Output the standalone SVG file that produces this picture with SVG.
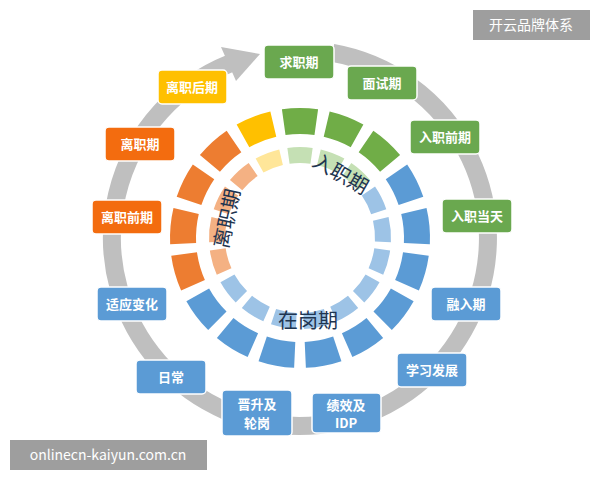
<svg xmlns="http://www.w3.org/2000/svg" xmlns:xlink="http://www.w3.org/1999/xlink" width="600" height="480" viewBox="0 0 600 480">
<style>
.bx{stroke:#fff;stroke-width:1.5}
.g{fill:#6aa84f}.b{fill:#5b9bd5}.o{fill:#f36c0f}.y{fill:#ffc000}
.t{font-family:"Noto Sans CJK SC","Liberation Sans",sans-serif;font-size:13px;font-weight:bold;fill:#fff;text-anchor:middle}
.c{font-family:"Noto Sans CJK SC","Liberation Sans",sans-serif;font-size:20px;fill:#1f3550;text-anchor:middle}
.w{font-family:"Noto Sans CJK SC","Liberation Sans",sans-serif;font-size:14px;fill:#fff;text-anchor:middle}
</style>
<defs>
<path id="so" d="M281.91,109.27 A130,130 0 0 1 318.09,109.27 L314.47,135.01 A104,104 0 0 0 285.53,135.01 Z"/>
<path id="si" d="M287.34,147.89 A91,91 0 0 1 312.66,147.89 L310.44,163.73 A75,75 0 0 0 289.56,163.73 Z"/>
</defs>
<rect width="600" height="480" fill="#fff"/>
<g id="connectors">
<path d="M332.6,52.9 A188,188 0 1 1 229.6,63.7" fill="none" stroke="#bfbfbf" stroke-width="18"/>
<polygon points="221,47 236,81 260,54" fill="#bfbfbf"/>
</g>
<g id="outer-ring">
<use xlink:href="#so" fill="#70ad47"/>
<use xlink:href="#so" fill="#70ad47" transform="rotate(21.18 300 238)"/>
<use xlink:href="#so" fill="#70ad47" transform="rotate(42.35 300 238)"/>
<use xlink:href="#so" fill="#5b9bd5" transform="rotate(63.53 300 238)"/>
<use xlink:href="#so" fill="#5b9bd5" transform="rotate(84.71 300 238)"/>
<use xlink:href="#so" fill="#5b9bd5" transform="rotate(105.88 300 238)"/>
<use xlink:href="#so" fill="#5b9bd5" transform="rotate(127.06 300 238)"/>
<use xlink:href="#so" fill="#5b9bd5" transform="rotate(148.24 300 238)"/>
<use xlink:href="#so" fill="#5b9bd5" transform="rotate(169.41 300 238)"/>
<use xlink:href="#so" fill="#5b9bd5" transform="rotate(190.59 300 238)"/>
<use xlink:href="#so" fill="#5b9bd5" transform="rotate(211.76 300 238)"/>
<use xlink:href="#so" fill="#5b9bd5" transform="rotate(232.94 300 238)"/>
<use xlink:href="#so" fill="#ed7d31" transform="rotate(254.12 300 238)"/>
<use xlink:href="#so" fill="#ed7d31" transform="rotate(275.29 300 238)"/>
<use xlink:href="#so" fill="#ed7d31" transform="rotate(296.47 300 238)"/>
<use xlink:href="#so" fill="#ed7d31" transform="rotate(317.65 300 238)"/>
<use xlink:href="#so" fill="#ffc000" transform="rotate(338.82 300 238)"/>
</g>
<g id="inner-ring">
<use xlink:href="#si" fill="#c5e0b4"/>
<use xlink:href="#si" fill="#c5e0b4" transform="rotate(21.18 300 238)"/>
<use xlink:href="#si" fill="#c5e0b4" transform="rotate(42.35 300 238)"/>
<use xlink:href="#si" fill="#9dc3e6" transform="rotate(63.53 300 238)"/>
<use xlink:href="#si" fill="#9dc3e6" transform="rotate(84.71 300 238)"/>
<use xlink:href="#si" fill="#9dc3e6" transform="rotate(105.88 300 238)"/>
<use xlink:href="#si" fill="#9dc3e6" transform="rotate(127.06 300 238)"/>
<use xlink:href="#si" fill="#9dc3e6" transform="rotate(148.24 300 238)"/>
<use xlink:href="#si" fill="#9dc3e6" transform="rotate(169.41 300 238)"/>
<use xlink:href="#si" fill="#9dc3e6" transform="rotate(190.59 300 238)"/>
<use xlink:href="#si" fill="#9dc3e6" transform="rotate(211.76 300 238)"/>
<use xlink:href="#si" fill="#9dc3e6" transform="rotate(232.94 300 238)"/>
<use xlink:href="#si" fill="#f4b183" transform="rotate(254.12 300 238)"/>
<use xlink:href="#si" fill="#f4b183" transform="rotate(275.29 300 238)"/>
<use xlink:href="#si" fill="#f4b183" transform="rotate(296.47 300 238)"/>
<use xlink:href="#si" fill="#f4b183" transform="rotate(317.65 300 238)"/>
<use xlink:href="#si" fill="#ffe699" transform="rotate(338.82 300 238)"/>
</g>
<g id="phase-labels">
<text class="c" transform="translate(337,180) rotate(30)">入职期</text>
<text class="c" x="308" y="328">在岗期</text>
<text class="c" transform="translate(234,220) rotate(-78)">离职期</text>
</g>
<g id="n1"><rect class="bx g" x="264" y="45" width="70" height="34" rx="4"/><text class="t" x="299" y="67">求职期</text></g>
<g id="n2"><rect class="bx g" x="347" y="66" width="70" height="34" rx="4"/><text class="t" x="382" y="88">面试期</text></g>
<g id="n3"><rect class="bx g" x="410" y="120" width="70" height="34" rx="4"/><text class="t" x="445" y="142">入职前期</text></g>
<g id="n4"><rect class="bx g" x="442" y="199" width="70" height="34" rx="4"/><text class="t" x="477" y="221">入职当天</text></g>
<g id="n5"><rect class="bx b" x="431" y="287" width="70" height="34" rx="4"/><text class="t" x="466" y="309">融入期</text></g>
<g id="n6"><rect class="bx b" x="397" y="353" width="70" height="34" rx="4"/><text class="t" x="432" y="375">学习发展</text></g>
<g id="n7"><rect class="bx b" x="312" y="393" width="69" height="40" rx="4"/><text class="t" x="346" y="410">绩效及</text><text class="t" x="346" y="428">IDP</text></g>
<g id="n8"><rect class="bx b" x="222" y="390" width="70" height="46" rx="4"/><text class="t" x="257" y="409">晋升及</text><text class="t" x="257" y="428">轮岗</text></g>
<g id="n9"><rect class="bx b" x="136" y="360" width="70" height="34" rx="4"/><text class="t" x="171" y="382">日常</text></g>
<g id="n10"><rect class="bx b" x="97" y="287" width="70" height="34" rx="4"/><text class="t" x="132" y="309">适应变化</text></g>
<g id="n11"><rect class="bx o" x="92" y="200" width="70" height="34" rx="4"/><text class="t" x="127" y="222">离职前期</text></g>
<g id="n12"><rect class="bx o" x="105" y="127" width="70" height="34" rx="4"/><text class="t" x="140" y="149">离职期</text></g>
<g id="n13"><rect class="bx y" x="158" y="70" width="69" height="34" rx="4"/><text class="t" x="192" y="92">离职后期</text></g>
<g id="watermarks">
<rect x="473" y="10" width="117" height="30" fill="#9e9e9e"/><text class="w" x="531" y="30">开云品牌体系</text>
<rect x="10" y="440" width="197" height="30" fill="#9e9e9e"/><text class="w" x="108" y="460">onlinecn-kaiyun.com.cn</text>
</g>
</svg>
